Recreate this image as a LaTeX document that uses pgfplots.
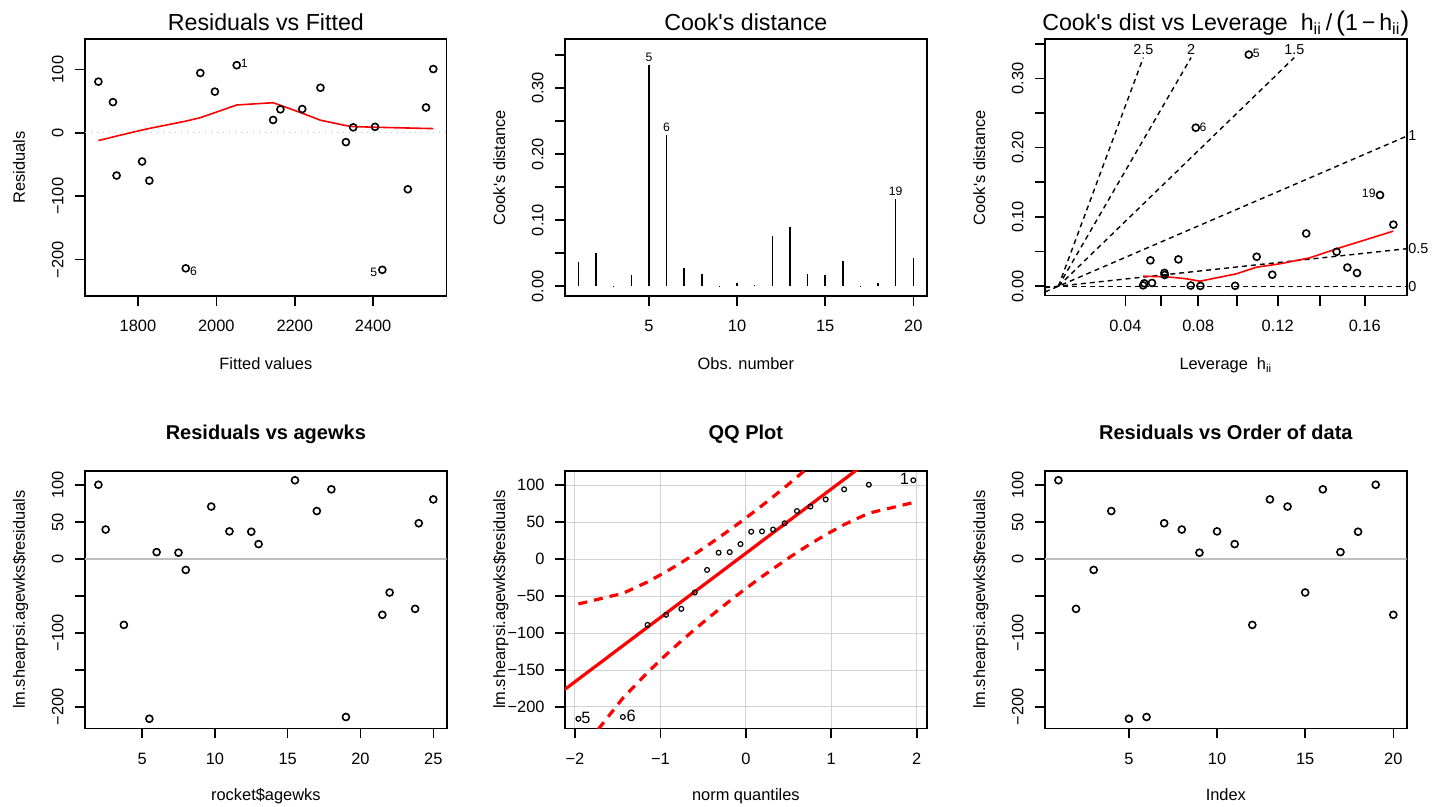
\documentclass[border=0pt]{standalone}
\usepackage{fontspec}
\setmainfont{Liberation Sans}
\usepackage{pgfplots}
\usepackage{pgfplotstable}
\pgfplotsset{compat=1.18}

\definecolor{rred}{RGB}{255,0,0}
\definecolor{gridgray}{RGB}{211,211,211}
\definecolor{zerogray}{RGB}{190,190,190}

\newcommand{\fs}[1]{\fontsize{#1}{#1}\selectfont}

% rocket data: obs, agewks, fitted, residual, Cook's D, h/(1-h)
\pgfplotstableread{
obs age fit res cook g
1 15.50 2051.94 106.76 0.0373 0.0572
2 23.75 1745.42 -67.27 0.0497 0.1730
3 8.00 2330.59 -14.59 0.0010 0.0823
4 17.00 1996.21 65.09 0.0162 0.0661
5 5.50 2423.48 -215.98 0.3343 0.1184
6 19.00 1921.90 -213.60 0.2288 0.0854
7 24.00 1736.14 48.56 0.0270 0.1797
8 2.50 2534.94 40.06 0.0191 0.1857
9 7.50 2349.17 8.73 0.0004 0.0883
10 11.00 2219.13 37.57 0.0047 0.0582
11 13.00 2144.83 20.37 0.0012 0.0527
12 3.75 2488.50 -88.95 0.0761 0.1541
13 25.00 1698.98 80.82 0.0889 0.2083
14 9.75 2265.57 71.18 0.0192 0.0659
15 22.00 1810.44 -45.14 0.0166 0.1330
16 18.00 1959.06 94.44 0.0387 0.0746
17 6.00 2404.90 9.50 0.0006 0.1099
18 12.50 2163.40 37.10 0.0042 0.0534
19 2.00 2553.52 100.68 0.1316 0.2000
20 21.50 1829.02 -75.32 0.0425 0.1233
}\rocket

% qq: normal quantile, sorted residual, envelope
\pgfplotstableread{
z res up lo
-1.95996 -215.98 -60.65 -264.20
-1.43953 -213.60 -46.29 -188.07
-1.15035 -88.95 -30.81 -153.27
-0.93459 -75.32 -17.13 -129.43
-0.75542 -67.27 -4.67 -110.75
-0.59776 -45.14 6.98 -94.98
-0.45376 -14.59 18.11 -81.07
-0.31864 8.73 28.92 -68.38
-0.18912 9.50 39.59 -56.53
-0.06271 20.37 50.30 -45.26
0.06271 37.10 61.20 -34.36
0.18912 37.57 72.47 -23.65
0.31864 40.06 84.32 -12.98
0.45376 48.56 97.01 -2.17
0.59776 65.09 110.92 8.96
0.75542 71.18 126.69 20.61
0.93459 80.82 145.37 33.07
1.15035 94.44 169.21 46.75
1.43953 100.68 204.01 62.23
1.95996 106.76 280.15 76.59
}\qq

\tikzset{
  idlab/.style={font=\fs{6.1}, inner sep=0pt},
  clab/.style={font=\fs{7.2}, inner sep=0pt},
  qlab/.style={font=\fs{8.2}, inner sep=0pt},
  yl/.style={font=\fs{8.2}, inner sep=0pt, rotate=90, anchor=base},
  ylh/.style={font=\fs{8.2}, inner sep=0pt, anchor=east},
}

\pgfplotsset{
  rbase/.style={
    scale only axis, width=180.85pt, anchor=north west,
    clip mode=individual,
    axis line style={line width=0.8pt},
    tick align=outside, tick pos=left, major tick length=5pt,
    major tick style={black, line width=0.8pt},
    tick label style={font=\fs{8.2}, inner sep=0pt},
    label style={font=\fs{8.2}},
    xticklabel style={anchor=north},
    xticklabel shift=7.15pt,
    yticklabels={,,,,,,,,,},
    ylabel style={at={(axis description cs:-0.1659,0.5)}, anchor=base},
    scaled ticks=false,
  },
  toprow/.style={rbase, height=128.2pt,
    title style={at={(axis description cs:0.5,1.0335)}, anchor=base, yshift=-6pt, font=\fs{11.6}},
    xlabel style={at={(axis description cs:0.5,-0.287)}, anchor=base}},
  botrow/.style={rbase, height=128.8pt,
    title style={at={(axis description cs:0.5,1.1219)}, anchor=base, yshift=-6pt, font=\fs{10}\bfseries},
    xlabel style={at={(axis description cs:0.5,-0.2783)}, anchor=base}},
  pts/.style={only marks, mark=o, mark size=1.75pt, mark options={line width=0.8pt, black}},
  cdash/.style={black, line width=0.7pt, dash pattern=on 2.5pt off 2pt},
}

\begin{document}
\begin{tikzpicture}
\path[use as bounding box] (0,0) rectangle (721.5pt,-403.5pt);

% Residuals vs Fitted
\begin{axis}[toprow, at={(42.5pt,-19.65pt)},
  title={Residuals vs Fitted},
  xmin=1664.8, xmax=2587.7, ymin=-256.8, ymax=147.6,
  xtick={1800,2000,2200,2400}, xticklabels={1800,2000,2200,2400},
  ytick={-200,-100,0,100},
  xlabel={Fitted values}, ylabel={Residuals}]
\addplot[zerogray, line width=0.6pt, dash pattern=on 0.6pt off 2.4pt] coordinates {(1664.8,0)(2587.7,0)};
\addplot[rred, line width=0.8pt] coordinates {
(1698.98,-12.1) (1736.14,-6.5) (1745.42,-5.0) (1810.44,4.5) (1829.02,7.0)
(1921.90,18.5) (1959.06,24.0) (1996.21,31.9) (2051.94,44.0) (2144.83,47.6)
(2163.40,43.5) (2219.13,31.0) (2265.57,20.0) (2330.59,11.5) (2349.17,9.9)
(2404.90,8.9) (2423.48,8.6) (2488.50,7.7) (2534.94,7.0) (2553.52,6.8)};
\addplot[pts] table[x=fit,y=res]{\rocket};
\node[idlab] at (axis cs:2071.4,109.4) {1};
\node[idlab] at (axis cs:1941.6,-217.7) {6};
\node[idlab] at (axis cs:2401.6,-219.3) {5};
\node[yl] at ([xshift=-10.85pt]axis cs:1664.8,-200) {−200};
\node[yl] at ([xshift=-10.85pt]axis cs:1664.8,-100) {−100};
\node[yl] at ([xshift=-10.85pt]axis cs:1664.8,0) {0};
\node[yl] at ([xshift=-10.85pt]axis cs:1664.8,100) {100};
\end{axis}

% Cook's distance
\begin{axis}[toprow, at={(282.5pt,-19.65pt)},
  title={Cook\textquotesingle s distance},
  xmin=0.24, xmax=20.76, ymin=-0.0144, ymax=0.3737,
  xtick={5,10,15,20}, xticklabels={5,10,15,20},
  ytick={0,0.05,0.10,0.15,0.20,0.25,0.30,0.35},
  xlabel={Obs. number}, ylabel={Cook\textquotesingle s distance}]
\addplot[ycomb, black, line width=0.75pt] table[x=obs,y=cook]{\rocket};
\node[idlab] at (axis cs:5,0.3457) {5};
\node[idlab] at (axis cs:6,0.2412) {6};
\node[idlab] at (axis cs:19,0.1437) {19};
\node[yl] at ([xshift=-10.85pt]axis cs:0.24,0) {0.00};
\node[yl] at ([xshift=-10.85pt]axis cs:0.24,0.1) {0.10};
\node[yl] at ([xshift=-10.85pt]axis cs:0.24,0.2) {0.20};
\node[yl] at ([xshift=-10.85pt]axis cs:0.24,0.3) {0.30};
\end{axis}

% Cook's dist vs leverage
\begin{axis}[toprow, at={(522.5pt,-19.65pt)}, clip=false,
  title={Cook\textquotesingle s dist vs Leverage\ \ h\textsubscript{ii}\,/\,{\fs{13.5}(}1\,−\,h\textsubscript{ii}{\fs{13.5})}},
  xmin=-0.00833, xmax=0.2166, ymin=-0.0137, ymax=0.3564,
  xtick={0.041667,0.063830,0.086957,0.111111,0.136364,0.162791,0.190476},
  xticklabels={0.04,,0.08,,0.12,,0.16},
  ytick={0,0.05,0.10,0.15,0.20,0.25,0.30,0.35},
  xlabel={Leverage\ \ h\textsubscript{ii}}, ylabel={Cook\textquotesingle s distance}]
\addplot[cdash] coordinates {(-0.00833,0)(0.2166,0)};
\addplot[cdash] coordinates {(-0.00833,-0.00208)(0.2166,0.05415)};
\addplot[cdash] coordinates {(-0.00833,-0.00833)(0.2166,0.2166)};
\addplot[cdash] coordinates {(0,0)(0.1467,0.330)};
\addplot[cdash] coordinates {(0,0)(0.0825,0.330)};
\addplot[cdash] coordinates {(0,0)(0.0528,0.330)};
\addplot[rred, line width=0.8pt] coordinates {
(0.0527,0.0144) (0.0600,0.0140) (0.0700,0.0130) (0.0797,0.0107) (0.0880,0.0072)
(0.1107,0.0179) (0.1231,0.0274) (0.1376,0.0323) (0.1562,0.0409) (0.1748,0.0553) (0.2083,0.0795)};
\addplot[pts] table[x=g,y=cook]{\rocket};
\node[clab] at (axis cs:0.0528,0.3418) {2.5};
\node[clab] at (axis cs:0.0825,0.3418) {2};
\node[clab] at (axis cs:0.1467,0.3418) {1.5};
\node[clab, anchor=west] at (axis cs:0.2174,0.2170) {1};
\node[clab, anchor=west] at (axis cs:0.2174,0.0540) {0.5};
\node[clab, anchor=west] at (axis cs:0.2174,0) {0};
\node[idlab] at (axis cs:0.1231,0.3360) {5};
\node[idlab] at (axis cs:0.0900,0.2294) {6};
\node[idlab] at (axis cs:0.1930,0.1334) {19};
\node[yl] at ([xshift=-10.85pt]axis cs:-0.00833,0) {0.00};
\node[yl] at ([xshift=-10.85pt]axis cs:-0.00833,0.1) {0.10};
\node[yl] at ([xshift=-10.85pt]axis cs:-0.00833,0.2) {0.20};
\node[yl] at ([xshift=-10.85pt]axis cs:-0.00833,0.3) {0.30};
\end{axis}

% Residuals vs agewks
\begin{axis}[botrow, at={(42.5pt,-235.35pt)},
  title={Residuals vs agewks},
  xmin=1.08, xmax=25.92, ymin=-228.89, ymax=119.67,
  xtick={5,10,15,20,25}, xticklabels={5,10,15,20,25},
  ytick={-200,-150,-100,-50,0,50,100},
  xlabel={rocket\$agewks}, ylabel={lm.shearpsi.agewks\$residuals}]
\addplot[zerogray, line width=0.8pt] coordinates {(1.08,0)(25.92,0)};
\addplot[pts] table[x=age,y=res]{\rocket};
\node[yl] at ([xshift=-10.85pt]axis cs:1.08,-200) {−200};
\node[yl] at ([xshift=-10.85pt]axis cs:1.08,-100) {−100};
\node[yl] at ([xshift=-10.85pt]axis cs:1.08,0) {0};
\node[yl] at ([xshift=-10.85pt]axis cs:1.08,50) {50};
\node[yl] at ([xshift=-10.85pt]axis cs:1.08,100) {100};
\end{axis}

% QQ plot
\begin{axis}[botrow, at={(282.5pt,-235.35pt)},
  title={QQ Plot},
  xmin=-2.1168, xmax=2.1168, ymin=-228.89, ymax=119.67,
  xtick={-2,-1,0,1,2}, xticklabels={−2,−1,0,1,2},
  ytick={-200,-150,-100,-50,0,50,100},
  grid=major, major grid style={gridgray, line width=0.5pt},
  xlabel={norm quantiles}, ylabel={lm.shearpsi.agewks\$residuals}]
\addplot[rred, line width=1.6pt] coordinates {(-2.2,-183.30)(2.2,199.24)};
\addplot[rred, line width=1.6pt, dash pattern=on 4.5pt off 3.5pt] table[x=z,y=up]{\qq};
\addplot[rred, line width=1.6pt, dash pattern=on 4.5pt off 3.5pt] table[x=z,y=lo]{\qq};
\addplot[only marks, mark=o, mark size=1.2pt, mark options={black, line width=0.6pt}] table[x=z,y=res]{\qq};
\node[qlab] at (axis cs:-1.871,-215.4) {5};
\node[qlab] at (axis cs:-1.343,-212.2) {6};
\node[qlab] at (axis cs:1.855,108.1) {1};
\node[ylh] at ([xshift=-10pt]axis cs:-2.1168,-200) {−200};
\node[ylh] at ([xshift=-10pt]axis cs:-2.1168,-150) {−150};
\node[ylh] at ([xshift=-10pt]axis cs:-2.1168,-100) {−100};
\node[ylh] at ([xshift=-10pt]axis cs:-2.1168,-50) {−50};
\node[ylh] at ([xshift=-10pt]axis cs:-2.1168,0) {0};
\node[ylh] at ([xshift=-10pt]axis cs:-2.1168,50) {50};
\node[ylh] at ([xshift=-10pt]axis cs:-2.1168,100) {100};
\end{axis}

% Residuals vs order
\begin{axis}[botrow, at={(522.5pt,-235.35pt)},
  title={Residuals vs Order of data},
  xmin=0.24, xmax=20.76, ymin=-228.89, ymax=119.67,
  xtick={5,10,15,20}, xticklabels={5,10,15,20},
  ytick={-200,-150,-100,-50,0,50,100},
  xlabel={Index}, ylabel={lm.shearpsi.agewks\$residuals}]
\addplot[zerogray, line width=0.8pt] coordinates {(0.24,0)(20.76,0)};
\addplot[pts] table[x=obs,y=res]{\rocket};
\node[yl] at ([xshift=-10.85pt]axis cs:0.24,-200) {−200};
\node[yl] at ([xshift=-10.85pt]axis cs:0.24,-100) {−100};
\node[yl] at ([xshift=-10.85pt]axis cs:0.24,0) {0};
\node[yl] at ([xshift=-10.85pt]axis cs:0.24,50) {50};
\node[yl] at ([xshift=-10.85pt]axis cs:0.24,100) {100};
\end{axis}
\end{tikzpicture}
\end{document}
